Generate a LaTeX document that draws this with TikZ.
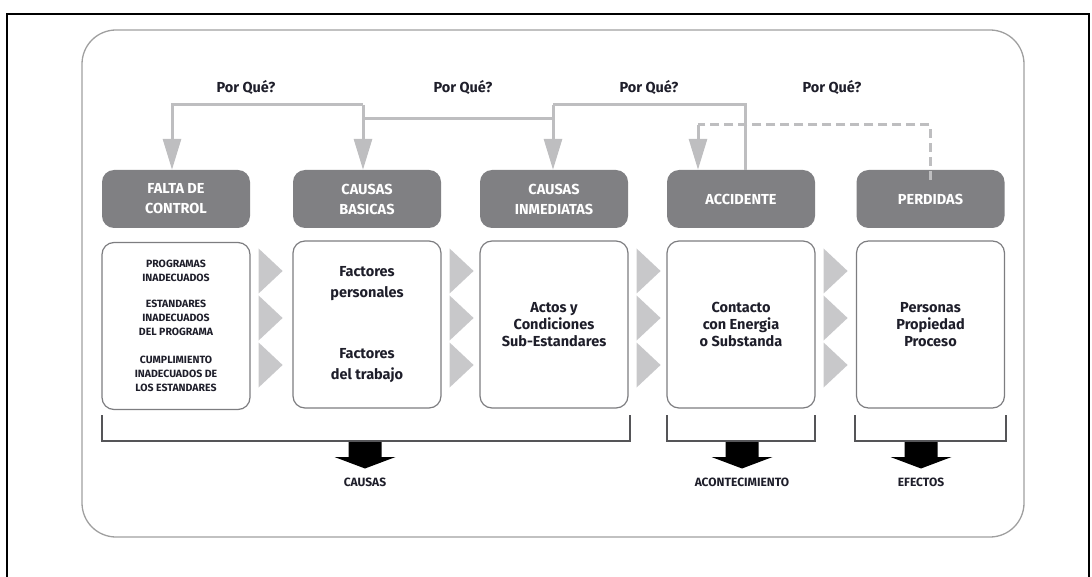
\documentclass[tikz,border=0pt]{standalone}
\usepackage{fontspec}
\setmainfont{Fira Sans}
\usetikzlibrary{arrows.meta,calc}
\definecolor{hdr}{RGB}{128,128,131}
\definecolor{lne}{RGB}{190,190,192}
\definecolor{trif}{RGB}{200,200,202}
\definecolor{bord}{RGB}{125,125,128}
\definecolor{txt}{RGB}{30,30,42}
\definecolor{brkc}{RGB}{85,85,88}
\begin{document}
\begin{tikzpicture}[x=1pt,y=-1pt,
  hdrbox/.style={fill=hdr, rounded corners=12pt, minimum width=148pt, minimum height=58pt,
    text=white, font=\bfseries\fontsize{14.5}{20}\selectfont, align=center, inner sep=0pt},
  bodybox/.style={draw=bord, line width=1.2pt, fill=white, rounded corners=12pt,
    minimum width=148pt, minimum height=167pt, text=txt,
    font=\bfseries\fontsize{14.5}{17}\selectfont, align=center, inner sep=0pt},
  smalltxt/.style={font=\bfseries\fontsize{10.5}{14}\selectfont},
  whylabel/.style={text=txt, font=\bfseries\fontsize{14.5}{15}\selectfont, inner sep=0pt},
  outlabel/.style={text=txt, font=\bfseries\fontsize{12}{12}\selectfont, inner sep=0pt},
  gline/.style={draw=lne, line width=3pt},
  garrow/.style={gline, -{Triangle[width=18pt,length=31pt]}},
  gdash/.style={draw=lne, line width=3pt, dash pattern=on 9pt off 5pt},
  brk/.style={draw=brkc, line width=2.2pt},
  bigarrow/.style={fill=black},
  chev/.style={fill=trif}
]
\useasboundingbox (0,0) rectangle (1092,577);
% page frame
\draw[line width=2pt] (7,577) -- (7,14) -- (1089,14) -- (1089,577);
% outer rounded panel
\draw[draw=gray!75, line width=1.3pt, rounded corners=34pt] (82,30) rectangle (1024,537);

% header boxes
\node[hdrbox] (h1) at (176,199) {FALTA DE\\CONTROL};
\node[hdrbox] (h2) at (367,199) {CAUSAS\\BASICAS};
\node[hdrbox] (h3) at (554,199) {CAUSAS\\INMEDIATAS};
\node[hdrbox] (h4) at (741,199) {ACCIDENTE};
\node[hdrbox] (h5) at (930.5,199) {PERDIDAS};

% body boxes
\node[bodybox, smalltxt] (b1) at (176,326) {PROGRAMAS\\INADECUADOS\\[12pt]ESTANDARES\\INADECUADOS\\DEL PROGRAMA\\[14pt]CUMPLIMIENTO\\INADECUADOS DE\\LOS ESTANDARES};
\node[bodybox, font=\bfseries\fontsize{14.5}{21}\selectfont] (b2) at (367,324.5) {Factores\\personales\\[40pt]Factores\\del trabajo};
\node[bodybox] (b3) at (554,324.5) {Actos y\\Condiciones\\Sub-Estandares};
\node[bodybox] (b4) at (741,324.5) {Contacto\\con Energia\\o Substanda};
\node[bodybox] (b5) at (930.5,324.5) {Personas\\Propiedad\\Proceso};

% chevrons between body boxes
\foreach \b in {b1,b2,b3,b4}{
  \foreach \yc in {271,318,365}{
    \path (\b.east) ++(8,0) coordinate (ca);
    \fill[chev] (ca |- 0,\yc-22.5) -- ($(ca |- 0,\yc)+(24,0)$) -- (ca |- 0,\yc+22.5) -- cycle;
  }
}

% "Por Qué?" labels
\node[whylabel] (w1) at (246,88) {Por Qué?};
\node[whylabel] (w2) at (463,88) {Por Qué?};
\node[whylabel] (w3) at (649,88) {Por Qué?};
\node[whylabel] (w4) at (832,88) {Por Qué?};

% feedback connectors
\coordinate (t3) at (553,105);
\coordinate (t2) at (363,105);
\coordinate (m3) at (553,119);
\coordinate (m2) at (363,119);
\coordinate (d4) at (698,125);
\draw[gline] ([xshift=4pt]h4.north) |- (t3);
\draw[garrow] (t3) -- (t3 |- h3.north);
\draw[gline] (m3) -- (m2);
\draw[garrow] (t2) -- (t2 |- h2.north);
\draw[garrow] (t2) -| ([xshift=-4pt]h1.north);
\draw[gdash] ([yshift=-10pt]h5.north) |- (d4);
\draw[garrow] (d4) -- (d4 |- h4.north);

% brackets
\coordinate (k1a) at (102,415); \coordinate (k1b) at (630,415);
\coordinate (k2a) at (667,415); \coordinate (k2b) at (815,415);
\coordinate (k3a) at (855,415); \coordinate (k3b) at (1006,415);
\draw[brk] (k1a) |- (630,441) -- (k1b);
\draw[brk] (k2a) |- (815,441) -- (k2b);
\draw[brk] (k3a) |- (1006,441) -- (k3b);

% big black arrows
\foreach \cx/\nm in {365/ca1,742/ca2,921/ca3}{
  \coordinate (\nm) at (\cx,442);
  \fill[bigarrow] ($(\nm)+(-16.5,0)$) -- ++(33,0) -- ++(0,15) -- ++(14,0) -- ($(\nm)+(0,26.5)$)
    -- ($(\nm)+(-30.5,15)$) -- ++(14,0) -- cycle;
}

% outcome labels
\node[outlabel] (o1) at (365,482) {CAUSAS};
\node[outlabel] (o2) at (742,482) {ACONTECIMIENTO};
\node[outlabel] (o3) at (921,482) {EFECTOS};
\end{tikzpicture}
\end{document}
